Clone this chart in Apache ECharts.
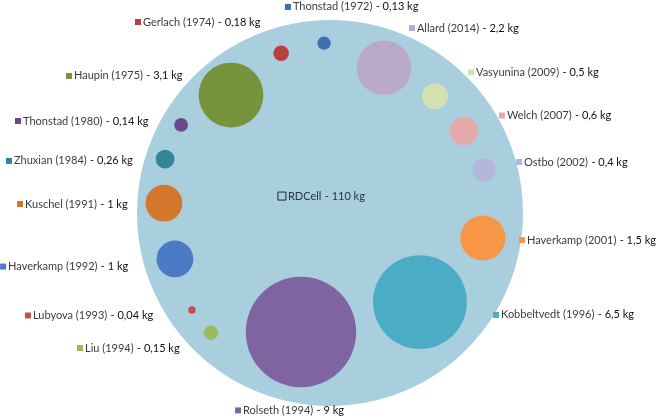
<!DOCTYPE html>
<html>
<head>
<meta charset="utf-8">
<script src="https://cdn.jsdelivr.net/npm/echarts@6/dist/echarts.min.js"></script>
<style>html,body{margin:0;padding:0;background:#fff}#c{width:656px;height:420px}</style>
</head>
<body>
<div id="c"></div>
<script>
// ---- data ----
var names = ['RDCell','Gerlach (1974)','Thonstad (1972)','Allard (2014)','Vasyunina (2009)','Welch (2007)','Ostbo (2002)','Haverkamp (2001)','Kobbeltvedt (1996)','Rolseth (1994)','Liu (1994)','Lubyova (1993)','Haverkamp (1992)','Kuschel (1991)','Zhuxian (1984)','Thonstad (1980)','Haupin (1975)'];
var massKg = [110,0.18,0.13,2.2,0.5,0.6,0.4,1.5,6.5,9,0.15,0.04,1,1,0.26,0.14,3.1];
var massText = ['110','0,18','0,13','2,2','0,5','0,6','0,4','1,5','6,5','9','0,15','0,04','1','1','0,26','0,14','3,1'];

// ---- layout (bubble placement around the rim, in sqrt-kg units) ----
var angleDeg = [0,107,92,69.6,48,31.5,15.6,-9.3,-44.7,-103.7,-134.8,-144.9,-163.5,176.6,161.9,149.4,130];
var ringDist = [0,9.08,9.24,8.42,8.53,8.53,8.70,8.42,6.88,6.66,9.18,9.17,8.79,9.04,9.43,9.40,8.37];
var labelAt = [[-2.83,0.92],[-10.60,10.38],[-2.45,11.20],[4.29,10.05],[7.50,7.64],[9.18,5.30],[10.11,2.77],[10.27,-1.47],[8.86,-5.54],[-5.16,-10.73],[-13.75,-7.34],[-16.58,-5.57],[-17.93,-2.91],[-17.01,0.49],[-17.61,2.83],[-17.12,5.0],[-14.35,7.45]];
var colors = ['#A9CEDE','#B9403F','#3E6FB0','#BBA9CB','#D3E0B1','#E4A9AA','#B3B8DA','#F79646','#4BACC6','#8064A2','#9BBB59','#C0504D','#4A7BC4','#D4772C','#31869B','#6A4A8C','#77933C'];

var bubbleData = names.map(function(n,i){
  var a = angleDeg[i]*Math.PI/180;
  return [ringDist[i]*Math.cos(a), ringDist[i]*Math.sin(a), Math.sqrt(massKg[i]), i];
});
var labelData = names.map(function(n,i){ return [labelAt[i][0], labelAt[i][1], i]; });

var S = 10.87;
var chart = echarts.init(document.getElementById('c'), null, {renderer:'canvas'});
chart.setOption({
  animation:false,
  grid:{left:130, top:13, width:400, height:400},
  xAxis:{type:'value', min:-S, max:S, show:false},
  yAxis:{type:'value', min:-S, max:S, show:false},
  series:[
    {
      type:'custom', coordinateSystem:'cartesian2d', clip:false,
      data:bubbleData,
      renderItem:function(params, api){
        var p = api.coord([api.value(0), api.value(1)]);
        var r = api.size([api.value(2), 0])[0];
        var i = api.value(3);
        return {type:'circle', shape:{cx:p[0], cy:p[1], r:r}, style:{fill:colors[i]}};
      }
    },
    {
      type:'custom', coordinateSystem:'cartesian2d', clip:false,
      data:labelData,
      renderItem:function(params, api){
        var p = api.coord([api.value(0), api.value(1)]);
        var i = api.value(2);
        var isMain = i === 0;
        var sq = isMain ? 8 : 6;
        return {type:'group', children:[
          {type:'rect', shape:{x:p[0], y:p[1]-sq/2, width:sq, height:sq},
           style: isMain ? {fill:'rgba(255,255,255,0)', stroke:'#1E2A38', lineWidth:1} : {fill:colors[i]}},
          {type:'text', x:p[0]+sq+2, y:p[1],
           style:{
             text:'{n|'+names[i]+'} {v|- '+massText[i]+' kg}',
             verticalAlign:'middle', align:'left',
             rich:{
               n:{fontFamily:'Lato', fontSize:11, fill: isMain ? '#26384A' : '#3C3C3C'},
               v:{fontFamily:'Lato', fontSize:11, fill: isMain ? '#26384A' : '#111111'}
             }
           }}
        ]};
      }
    }
  ]
});
</script>
</body>
</html>
